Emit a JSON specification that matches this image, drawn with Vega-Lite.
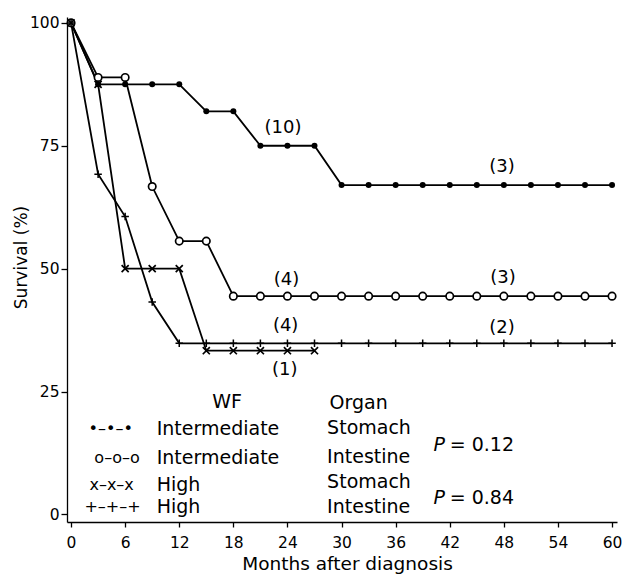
{
  "$schema": "https://vega.github.io/schema/vega-lite/v6.json",
  "width": 550,
  "height": 505,
  "autosize": {"type": "none"},
  "padding": {"left": 67, "top": 17, "right": 6, "bottom": 52},
  "background": "white",
  "config": {
    "view": {"stroke": null},
    "font": "DejaVu Sans",
    "axis": {
      "grid": false,
      "domainColor": "black",
      "domainWidth": 1.3,
      "tickColor": "black",
      "tickWidth": 1.3,
      "labelColor": "black",
      "titleColor": "black",
      "labelFont": "DejaVu Sans",
      "titleFont": "DejaVu Sans",
      "titleFontWeight": "normal"
    }
  },
  "datasets": {
    "surv": [
      {"g": "IS", "m": 0, "s": 100}, {"g": "IS", "m": 3, "s": 87.5}, {"g": "IS", "m": 6, "s": 87.5}, {"g": "IS", "m": 9, "s": 87.5}, {"g": "IS", "m": 12, "s": 87.5},
      {"g": "IS", "m": 15, "s": 82}, {"g": "IS", "m": 18, "s": 82}, {"g": "IS", "m": 21, "s": 75}, {"g": "IS", "m": 24, "s": 75}, {"g": "IS", "m": 27, "s": 75},
      {"g": "IS", "m": 30, "s": 67}, {"g": "IS", "m": 33, "s": 67}, {"g": "IS", "m": 36, "s": 67}, {"g": "IS", "m": 39, "s": 67}, {"g": "IS", "m": 42, "s": 67},
      {"g": "IS", "m": 45, "s": 67}, {"g": "IS", "m": 48, "s": 67}, {"g": "IS", "m": 51, "s": 67}, {"g": "IS", "m": 54, "s": 67}, {"g": "IS", "m": 57, "s": 67}, {"g": "IS", "m": 60, "s": 67},
      {"g": "II", "m": 0, "s": 100}, {"g": "II", "m": 3, "s": 88.9}, {"g": "II", "m": 6, "s": 88.9}, {"g": "II", "m": 9, "s": 66.7}, {"g": "II", "m": 12, "s": 55.6},
      {"g": "II", "m": 15, "s": 55.6}, {"g": "II", "m": 18, "s": 44.4}, {"g": "II", "m": 21, "s": 44.4}, {"g": "II", "m": 24, "s": 44.4}, {"g": "II", "m": 27, "s": 44.4},
      {"g": "II", "m": 30, "s": 44.4}, {"g": "II", "m": 33, "s": 44.4}, {"g": "II", "m": 36, "s": 44.4}, {"g": "II", "m": 39, "s": 44.4}, {"g": "II", "m": 42, "s": 44.4},
      {"g": "II", "m": 45, "s": 44.4}, {"g": "II", "m": 48, "s": 44.4}, {"g": "II", "m": 51, "s": 44.4}, {"g": "II", "m": 54, "s": 44.4}, {"g": "II", "m": 57, "s": 44.4}, {"g": "II", "m": 60, "s": 44.4},
      {"g": "HS", "m": 0, "s": 100}, {"g": "HS", "m": 3, "s": 87.5}, {"g": "HS", "m": 6, "s": 50}, {"g": "HS", "m": 9, "s": 50}, {"g": "HS", "m": 12, "s": 50},
      {"g": "HS", "m": 15, "s": 33.3}, {"g": "HS", "m": 18, "s": 33.3}, {"g": "HS", "m": 21, "s": 33.3}, {"g": "HS", "m": 24, "s": 33.3}, {"g": "HS", "m": 27, "s": 33.3},
      {"g": "HI", "m": 0, "s": 100}, {"g": "HI", "m": 3, "s": 69.2}, {"g": "HI", "m": 6, "s": 60.6}, {"g": "HI", "m": 9, "s": 43.2}, {"g": "HI", "m": 12, "s": 34.8},
      {"g": "HI", "m": 15, "s": 34.8}, {"g": "HI", "m": 18, "s": 34.8}, {"g": "HI", "m": 21, "s": 34.8}, {"g": "HI", "m": 24, "s": 34.8}, {"g": "HI", "m": 27, "s": 34.8},
      {"g": "HI", "m": 30, "s": 34.8}, {"g": "HI", "m": 33, "s": 34.8}, {"g": "HI", "m": 36, "s": 34.8}, {"g": "HI", "m": 39, "s": 34.8}, {"g": "HI", "m": 42, "s": 34.8},
      {"g": "HI", "m": 45, "s": 34.8}, {"g": "HI", "m": 48, "s": 34.8}, {"g": "HI", "m": 51, "s": 34.8}, {"g": "HI", "m": 54, "s": 34.8}, {"g": "HI", "m": 57, "s": 34.8}, {"g": "HI", "m": 60, "s": 34.8}
    ],
    "notes": [
      {"t": "(10)", "m": 23.5, "s": 78.6, "k": "a"},
      {"t": "(3)", "m": 47.8, "s": 70.7, "k": "a"},
      {"t": "(4)", "m": 23.9, "s": 47.7, "k": "a"},
      {"t": "(3)", "m": 47.9, "s": 48.1, "k": "a"},
      {"t": "(4)", "m": 23.8, "s": 38.4, "k": "a"},
      {"t": "(2)", "m": 47.8, "s": 37.9, "k": "a"},
      {"t": "(1)", "m": 23.7, "s": 29.4, "k": "a"},
      {"t": "WF", "m": 17.3, "s": 22.9, "k": "h"},
      {"t": "Organ", "m": 31.9, "s": 22.7, "k": "h"},
      {"t": "•–•–•", "m": 4.4, "s": 17.4, "k": "sym"},
      {"t": "o–o–o", "m": 5.1, "s": 11.5, "k": "sym"},
      {"t": "x–x–x", "m": 4.5, "s": 6.0, "k": "sym"},
      {"t": "+–+–+", "m": 4.6, "s": 1.5, "k": "sym"},
      {"t": "Intermediate", "m": 9.5, "s": 17.4, "k": "l"},
      {"t": "Intermediate", "m": 9.5, "s": 11.5, "k": "l"},
      {"t": "High", "m": 9.5, "s": 6.0, "k": "l"},
      {"t": "High", "m": 9.5, "s": 1.5, "k": "l"},
      {"t": "Stomach", "m": 28.4, "s": 17.6, "k": "l"},
      {"t": "Intestine", "m": 28.4, "s": 11.7, "k": "l"},
      {"t": "Stomach", "m": 28.4, "s": 6.6, "k": "l"},
      {"t": "Intestine", "m": 28.4, "s": 1.5, "k": "l"},
      {"t": "P", "m": 40.2, "s": 14.1, "k": "p"},
      {"t": "= 0.12", "m": 42.0, "s": 14.1, "k": "l"},
      {"t": "P", "m": 40.2, "s": 3.4, "k": "p"},
      {"t": "= 0.84", "m": 42.0, "s": 3.4, "k": "l"}
    ]
  },
  "encoding": {
    "x": {
      "field": "m", "type": "quantitative",
      "scale": {"domain": [-0.45, 60.55], "nice": false, "zero": false},
      "axis": {
        "values": [0, 6, 12, 18, 24, 30, 36, 42, 48, 54, 60],
        "title": "Months after diagnosis",
        "tickSize": 5,
        "labelPadding": 8,
        "labelFontSize": 15.5,
        "titleFontSize": 18.5,
        "titleX": 280,
        "titleY": 47,
        "titleAlign": "center",
        "titleBaseline": "alphabetic"
      }
    },
    "y": {
      "field": "s", "type": "quantitative",
      "scale": {"domain": [-1.55, 101.2], "nice": false, "zero": false},
      "axis": {
        "values": [0, 25, 50, 75, 100],
        "title": "Survival (%)",
        "tickSize": 6,
        "labelPadding": 2,
        "labelFontSize": 15.5,
        "titleFontSize": 17,
        "titleAngle": -90,
        "titleX": -46,
        "titleY": 240,
        "titleAlign": "center",
        "titleBaseline": "middle"
      }
    }
  },
  "layer": [
    {
      "data": {"name": "surv"},
      "mark": {"type": "line", "color": "black", "strokeWidth": 1.8},
      "encoding": {"detail": {"field": "g"}}
    },
    {
      "data": {"name": "surv"},
      "transform": [{"filter": "datum.g === 'IS'"}],
      "mark": {"type": "point", "shape": "circle", "filled": true, "color": "black", "size": 36, "opacity": 1}
    },
    {
      "data": {"name": "surv"},
      "transform": [{"filter": "datum.g === 'II'"}],
      "mark": {"type": "point", "shape": "circle", "filled": true, "fill": "white", "stroke": "black", "strokeWidth": 1.7, "size": 55, "opacity": 1, "fillOpacity": 1}
    },
    {
      "data": {"name": "surv"},
      "transform": [{"filter": "datum.g === 'HS'"}],
      "mark": {"type": "point", "shape": "M-1,-1L1,1M-1,1L1,-1", "filled": false, "stroke": "black", "strokeWidth": 1.7, "size": 50, "opacity": 1}
    },
    {
      "data": {"name": "surv"},
      "transform": [{"filter": "datum.g === 'HI'"}],
      "mark": {"type": "point", "shape": "M-1,0L1,0M0,-1L0,1", "filled": false, "stroke": "black", "strokeWidth": 1.5, "size": 56, "opacity": 1}
    },
    {
      "data": {"name": "notes"},
      "transform": [{"filter": "datum.k === 'a'"}],
      "mark": {"type": "text", "align": "center", "baseline": "middle", "fontSize": 18, "color": "black"},
      "encoding": {"text": {"field": "t"}}
    },
    {
      "data": {"name": "notes"},
      "transform": [{"filter": "datum.k === 'h'"}],
      "mark": {"type": "text", "align": "center", "baseline": "middle", "fontSize": 19, "color": "black"},
      "encoding": {"text": {"field": "t"}}
    },
    {
      "data": {"name": "notes"},
      "transform": [{"filter": "datum.k === 'sym'"}],
      "mark": {"type": "text", "align": "center", "baseline": "middle", "fontSize": 16, "color": "black"},
      "encoding": {"text": {"field": "t"}}
    },
    {
      "data": {"name": "notes"},
      "transform": [{"filter": "datum.k === 'l'"}],
      "mark": {"type": "text", "align": "left", "baseline": "middle", "fontSize": 19, "color": "black"},
      "encoding": {"text": {"field": "t"}}
    },
    {
      "data": {"name": "notes"},
      "transform": [{"filter": "datum.k === 'p'"}],
      "mark": {"type": "text", "align": "left", "baseline": "middle", "fontSize": 19, "fontStyle": "italic", "color": "black"},
      "encoding": {"text": {"field": "t"}}
    }
  ]
}
